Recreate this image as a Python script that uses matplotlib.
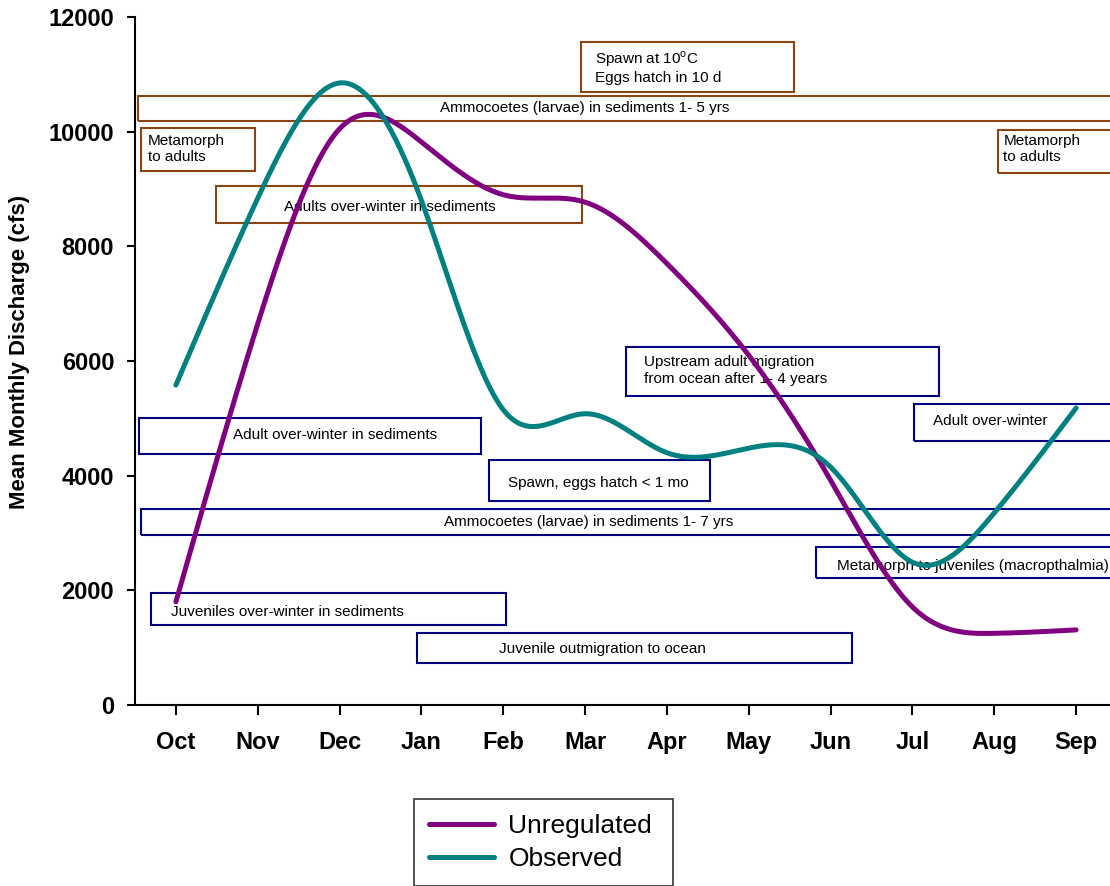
import numpy as np
import matplotlib
matplotlib.use("Agg")
import matplotlib.pyplot as plt
from matplotlib.patches import Rectangle

plt.rcParams['font.family'] = ['Liberation Sans', 'DejaVu Sans']
plt.rcParams['mathtext.fontset'] = 'custom'
plt.rcParams['mathtext.rm'] = 'Liberation Sans'

# ---------------- data ----------------
months = ["Oct", "Nov", "Dec", "Jan", "Feb", "Mar", "Apr", "May", "Jun", "Jul", "Aug", "Sep"]
unregulated = [1800, 6650, 10050, 9820, 8900, 8770, 7700, 6100, 3920, 1710, 1250, 1310]
observed = [5580, 8840, 10850, 8800, 5150, 5080, 4400, 4480, 4150, 2490, 3350, 5180]
y_ticks = [0, 2000, 4000, 6000, 8000, 10000, 12000]

# life-stage annotation boxes: (label lines, x0, x1, y0, y1, text x, text y of lines)
brown_boxes = [
    ([r"Spawn at 10$^{\mathrm{o}}$C", "Eggs hatch in 10 d"], 4.95, 7.55, 10692, 11564, 5.12, [11268, 10936]),
    (["Ammocoetes (larvae) in sediments 1- 5 yrs"], -0.46, 12.5, 10186, 10622, 3.23, [10413]),
    (["Metamorph", "to adults"], -0.43, 0.97, 9314, 10064, -0.34, [9837, 9558]),
    (["Metamorph", "to adults"], 10.05, 12.5, 9279, 10029, 10.11, [9837, 9558]),
    (["Adults over-winter in sediments"], 0.49, 4.96, 8407, 9052, 1.32, [8686]),
]
navy_boxes = [
    (["Adult over-winter in sediments"], -0.45, 3.73, 4378, 5006, 0.70, [4709]),
    (["Spawn, eggs hatch < 1 mo"], 3.83, 6.53, 3558, 4273, 4.06, [3872]),
    (["Ammocoetes (larvae) in sediments 1- 7 yrs"], -0.43, 12.5, 2965, 3419, 3.28, [3192]),
    (["Upstream adult migration", "from ocean after 1- 4 years"], 5.50, 9.33, 5390, 6244, 5.72, [5983, 5686]),
    (["Adult over-winter"], 9.02, 12.5, 4605, 5250, 9.25, [4954]),
    (["Metamorph to juveniles (macropthalmia)"], 7.82, 12.5, 2215, 2756, 8.08, [2424]),
    (["Juveniles over-winter in sediments"], -0.31, 4.03, 1395, 1953, -0.06, [1622]),
    (["Juvenile outmigration to ocean"], 2.95, 8.26, 733, 1256, 3.95, [977]),
]

PURPLE = "#800080"
TEAL = "#008080"
BROWN = "#8B4513"
NAVY = "#000080"


def natural_spline(x, y, xs):
    x = np.asarray(x, float)
    y = np.asarray(y, float)
    n = len(x)
    h = np.diff(x)
    A = np.zeros((n, n))
    b = np.zeros(n)
    A[0, 0] = 1
    A[-1, -1] = 1
    for i in range(1, n - 1):
        A[i, i - 1] = h[i - 1]
        A[i, i] = 2 * (h[i - 1] + h[i])
        A[i, i + 1] = h[i]
        b[i] = 6 * ((y[i + 1] - y[i]) / h[i] - (y[i] - y[i - 1]) / h[i - 1])
    M = np.linalg.solve(A, b)
    idx = np.clip(np.searchsorted(x, xs) - 1, 0, n - 2)
    x0, x1 = x[idx], x[idx + 1]
    hh = x1 - x0
    return (M[idx] * (x1 - xs) ** 3 / (6 * hh) + M[idx + 1] * (xs - x0) ** 3 / (6 * hh)
            + (y[idx] / hh - M[idx] * hh / 6) * (x1 - xs)
            + (y[idx + 1] / hh - M[idx + 1] * hh / 6) * (xs - x0))


W, H = 1110, 886
fig = plt.figure(figsize=(W / 100, H / 100), dpi=100)
ax = fig.add_axes([135 / W, 181 / H, (1117 - 135) / W, 688 / H])

x = np.arange(len(months))
xs = np.linspace(0, len(months) - 1, 600)

for boxes, col in ((brown_boxes, BROWN), (navy_boxes, NAVY)):
    for lines, x0, x1, y0, y1, tx, tys in boxes:
        ax.add_patch(Rectangle((x0, y0), x1 - x0, y1 - y0, facecolor="none",
                               edgecolor=col, linewidth=1.5, zorder=2))
        for line, ty in zip(lines, tys):
            ax.text(tx, ty, line, fontsize=11, ha="left", va="center", color="black", zorder=3)

ax.plot(xs, natural_spline(x, unregulated, xs), color=PURPLE, lw=3.6, zorder=4,
        solid_capstyle="round", label="Unregulated")
ax.plot(xs, natural_spline(x, observed, xs), color=TEAL, lw=3.6, zorder=4,
        solid_capstyle="round", label="Observed")

ax.set_xlim(-0.5, 11.5)
ax.set_ylim(0, 12000)
ax.set_xticks(x)
ax.set_xticklabels(months)
ax.set_yticks(y_ticks)
ax.set_yticklabels([str(v) for v in y_ticks])
for lab in ax.get_xticklabels() + ax.get_yticklabels():
    lab.set_fontweight("bold")
    lab.set_fontsize(17)
ax.tick_params(axis="y", direction="out", length=6, width=1.5, pad=9)
ax.tick_params(axis="x", direction="out", length=7.5, width=1.5, pad=11)
ax.spines["top"].set_visible(False)
ax.spines["right"].set_visible(False)
ax.spines["left"].set_linewidth(1.5)
ax.spines["bottom"].set_linewidth(1.5)

fig.text(20 / W, 1 - 352 / H, "Mean Monthly Discharge (cfs)", rotation=90,
         ha="center", va="center", fontsize=16, fontweight="bold")

leg = ax.legend(loc="upper left", bbox_to_anchor=(414 / W, 0.0, (673 - 414) / W, 87 / H),
                bbox_transform=fig.transFigure, mode="expand", fontsize=19, frameon=True,
                fancybox=False, edgecolor="black", borderpad=0.58, handlelength=2.45,
                handletextpad=0.55, labelspacing=0.32, borderaxespad=0)
leg.get_frame().set_linewidth(1.2)
for l in leg.get_lines():
    l.set_linewidth(3.6)

fig.savefig("out.png", dpi=100)
